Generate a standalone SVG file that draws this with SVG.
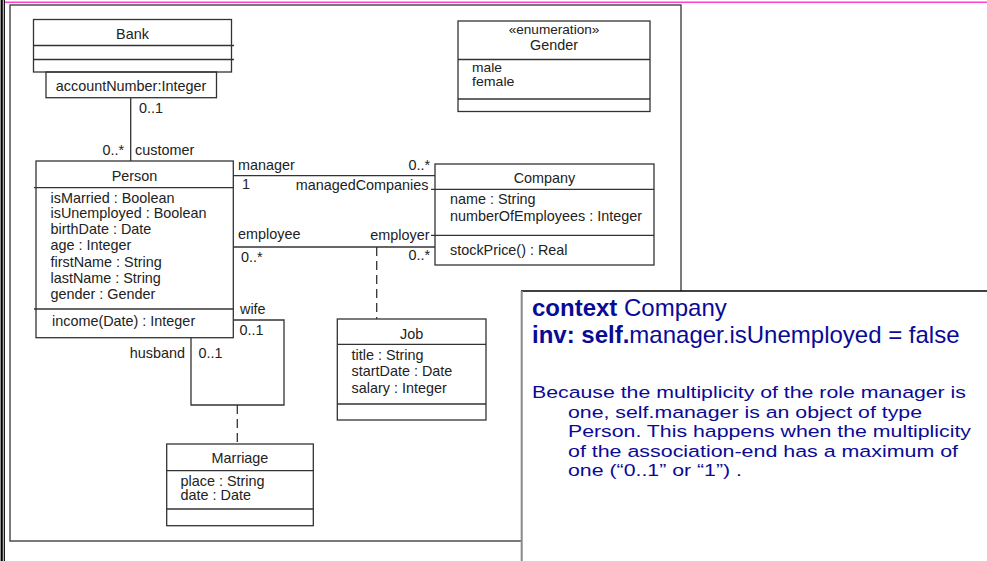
<svg xmlns="http://www.w3.org/2000/svg" width="987" height="561" viewBox="0 0 987 561">
<style>
.box{fill:none;stroke:#333;stroke-width:1.3}
.ln{fill:none;stroke:#333;stroke-width:1.3}
.dash{stroke-dasharray:9 5}
.t{font-family:"Liberation Sans",Arial,sans-serif;font-size:14.4px;fill:#222}
.c{text-anchor:middle}
.e{text-anchor:end}
.ocl{font-family:"Liberation Sans",Arial,sans-serif;fill:#0a0a96}
.p{font-size:17.4px}
.b{font-weight:bold}
.lit{font-size:12.6px}
</style>
<rect x="0" y="0" width="987" height="561" fill="#fff"/>
<g id="page-borders">
  <line x1="4" y1="2.2" x2="987" y2="2.2" stroke="#ff40d0" stroke-width="1.4"/>
  <line x1="1.7" y1="0" x2="1.7" y2="561" stroke="#000" stroke-width="2.2"/>
  <line x1="4.3" y1="0" x2="4.3" y2="561" stroke="#000" stroke-width="1.2"/>
  <rect x="10" y="5" width="671" height="536" fill="none" stroke="#333" stroke-width="1.3"/>
</g>
<g id="connectors">
  <path class="ln" d="M130.7,97.7 V161"/>
  <path class="ln" d="M233.3,175.7 H435"/>
  <path class="ln" d="M233.3,247 H435"/>
  <path class="ln" d="M233.3,320 H284 V405 H191 V337.7"/>
  <path class="ln dash" d="M376.7,247 V319"/>
  <path class="ln dash" d="M237.3,405 V444"/>
  <text class="t" x="139" y="113">0..1</text>
  <text class="t e" x="124" y="155">0..*</text>
  <text class="t" x="135" y="155">customer</text>
  <text class="t" x="238" y="170">manager</text>
  <text class="t e" x="430" y="170">0..*</text>
  <text class="t" x="242" y="189">1</text>
  <text class="t e" x="428.5" y="190">managedCompanies</text>
  <text class="t" x="238" y="239">employee</text>
  <text class="t e" x="429.5" y="240">employer</text>
  <text class="t" x="241" y="262">0..*</text>
  <text class="t e" x="430" y="260">0..*</text>
  <text class="t" x="240" y="314">wife</text>
  <text class="t" x="239.5" y="335">0..1</text>
  <text class="t e" x="185" y="358">husband</text>
  <text class="t" x="198.5" y="358">0..1</text>
</g>
<g id="Bank">
  <rect class="box" x="33.5" y="19.5" width="198" height="52.5"/>
  <line class="ln" x1="33.5" y1="45.5" x2="234" y2="45.5"/>
  <line class="ln" x1="33.5" y1="59.5" x2="234" y2="59.5"/>
  <rect class="box" x="46" y="72" width="170.5" height="25.7"/>
  <text class="t c" x="132.5" y="38.5">Bank</text>
  <text class="t c" x="131" y="91">accountNumber:Integer</text>
</g>
<g id="Person">
  <rect class="box" x="36" y="161" width="197.3" height="176.7"/>
  <line class="ln" x1="34" y1="187.7" x2="233.3" y2="187.7"/>
  <line class="ln" x1="34" y1="309" x2="233.3" y2="309"/>
  <text class="t c" x="134.5" y="180.5">Person</text>
  <text class="t" x="50.5" y="203">isMarried : Boolean</text>
  <text class="t" x="50.5" y="218">isUnemployed : Boolean</text>
  <text class="t" x="50.5" y="234">birthDate : Date</text>
  <text class="t" x="50.5" y="250">age : Integer</text>
  <text class="t" x="50.5" y="266.5">firstName : String</text>
  <text class="t" x="50.5" y="282.5">lastName : String</text>
  <text class="t" x="50.5" y="299">gender : Gender</text>
  <text class="t" x="52" y="326">income(Date) : Integer</text>
</g>
<g id="Company">
  <rect class="box" x="435" y="164" width="219" height="101"/>
  <line class="ln" x1="431" y1="189.3" x2="654" y2="189.3"/>
  <line class="ln" x1="431" y1="235.3" x2="654" y2="235.3"/>
  <text class="t c" x="544.5" y="182.5">Company</text>
  <text class="t" x="450" y="204">name : String</text>
  <text class="t" x="450" y="220.5">numberOfEmployees : Integer</text>
  <text class="t" x="450" y="254.5">stockPrice() : Real</text>
</g>
<g id="Job">
  <rect class="box" x="337.3" y="319" width="148.7" height="101"/>
  <line class="ln" x1="337.3" y1="344.3" x2="486" y2="344.3"/>
  <line class="ln" x1="337.3" y1="404" x2="486" y2="404"/>
  <text class="t c" x="411.7" y="338.5">Job</text>
  <text class="t" x="351.5" y="359.5">title : String</text>
  <text class="t" x="351.5" y="376">startDate : Date</text>
  <text class="t" x="351.5" y="392.5">salary : Integer</text>
</g>
<g id="Marriage">
  <rect class="box" x="166.7" y="444" width="146.6" height="81.7"/>
  <line class="ln" x1="166.7" y1="470.7" x2="313.3" y2="470.7"/>
  <line class="ln" x1="166.7" y1="509" x2="313.3" y2="509"/>
  <text class="t c" x="240" y="463">Marriage</text>
  <text class="t" x="180.5" y="485.5">place : String</text>
  <text class="t" x="180.5" y="500">date : Date</text>
</g>
<g id="Gender">
  <rect class="box" x="458" y="21" width="192" height="90.5"/>
  <line class="ln" x1="458" y1="59.5" x2="650" y2="59.5"/>
  <line class="ln" x1="458" y1="99" x2="650" y2="99"/>
  <text class="t c" x="554" y="34" style="font-size:13.6px">«enumeration»</text>
  <text class="t c" x="554" y="49.5">Gender</text>
  <text class="t lit" x="472" y="71.5" textLength="30" lengthAdjust="spacingAndGlyphs">male</text>
  <text class="t lit" x="472" y="85.5" textLength="42.5" lengthAdjust="spacingAndGlyphs">female</text>
</g>
<g id="ocl-note">
  <rect x="522" y="291" width="470" height="275" fill="#fff"/>
  <line x1="521" y1="291" x2="987" y2="291" stroke="#000" stroke-width="1.3"/>
  <line x1="521.7" y1="291" x2="521.7" y2="561" stroke="#888" stroke-width="2"/>
  <text class="ocl" x="532" y="316" style="font-size:24px"><tspan class="b">context</tspan> Company</text>
  <text class="ocl" x="532" y="343" style="font-size:24px"><tspan class="b">inv: self.</tspan>manager.isUnemployed = false</text>
  <text class="ocl p" x="532" y="398" textLength="434" lengthAdjust="spacingAndGlyphs">Because the multiplicity of the role manager is</text>
  <text class="ocl p" x="568" y="417.5" textLength="354" lengthAdjust="spacingAndGlyphs">one, self.manager is an object of type</text>
  <text class="ocl p" x="568" y="437" textLength="403" lengthAdjust="spacingAndGlyphs">Person. This happens when the multiplicity</text>
  <text class="ocl p" x="568" y="456.5" textLength="390" lengthAdjust="spacingAndGlyphs">of the association-end has a maximum of</text>
  <text class="ocl p" x="568" y="476" textLength="174" lengthAdjust="spacingAndGlyphs">one (“0..1” or “1”) .</text>
</g>
</svg>
